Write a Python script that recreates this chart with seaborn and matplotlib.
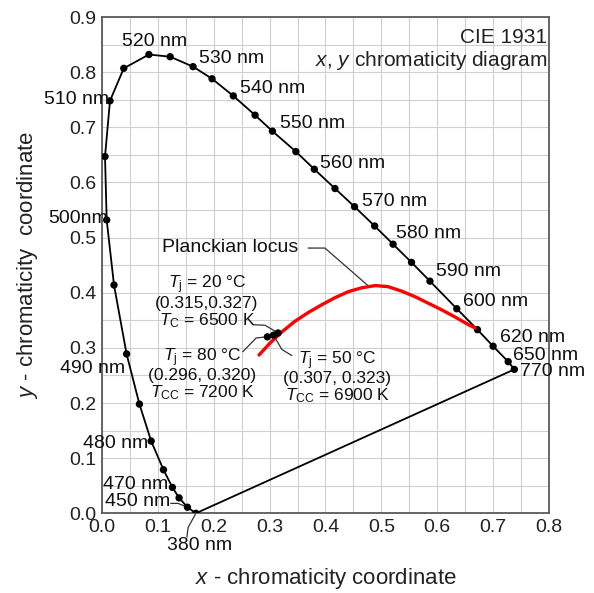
import numpy as np
import pandas as pd
import matplotlib
matplotlib.use("Agg")
import matplotlib.pyplot as plt
import seaborn as sns

# ---------------- data ----------------
wavelengths = [380, 450, 460, 470, 475, 480, 485, 490, 495, 500, 505, 510, 515,
               520, 525, 530, 535, 540, 545, 550, 555, 560, 565, 570, 575, 580,
               585, 590, 600, 610, 620, 650, 770]
locus_x = [0.168, 0.153, 0.138, 0.126, 0.110, 0.088, 0.067, 0.044, 0.0215, 0.0084,
           0.0054, 0.0143, 0.039, 0.084, 0.122, 0.163, 0.197, 0.235, 0.274, 0.305,
           0.347, 0.380, 0.417, 0.452, 0.488, 0.521, 0.554, 0.587, 0.635, 0.672,
           0.700, 0.727, 0.738]
locus_y = [0.000, 0.011, 0.028, 0.047, 0.079, 0.131, 0.198, 0.289, 0.414, 0.532,
           0.647, 0.748, 0.807, 0.832, 0.828, 0.810, 0.788, 0.757, 0.722, 0.693,
           0.656, 0.624, 0.589, 0.556, 0.521, 0.488, 0.455, 0.421, 0.371, 0.333,
           0.303, 0.275, 0.261]

planck_x = [0.281, 0.301, 0.322, 0.345, 0.369, 0.393, 0.417, 0.441, 0.465, 0.489,
            0.512, 0.536, 0.560, 0.584, 0.608, 0.632, 0.656, 0.668]
planck_y = [0.287, 0.309, 0.329, 0.348, 0.364, 0.378, 0.391, 0.402, 0.409, 0.413,
            0.411, 0.403, 0.393, 0.381, 0.369, 0.356, 0.342, 0.336]

tj_labels = ["20 °C", "50 °C", "80 °C"]
tj_x = [0.315, 0.307, 0.296]
tj_y = [0.327, 0.323, 0.320]
tj_coords = ["(0.315,0.327)", "(0.307, 0.323)", "(0.296, 0.320)"]
tj_temps = [r"$T_{\mathrm{C}}$ = 6500 K", r"$T_{\mathrm{CC}}$ = 6900 K", r"$T_{\mathrm{CC}}$ = 7200 K"]

label_wl = [380, 450, 470, 480, 490, 500, 510, 520, 530, 540, 550, 560, 570,
            580, 590, 600, 620, 650, 770]
label_text = ["380 nm", "450 nm", "470 nm", "480 nm", "490 nm", "500nm", "510 nm",
              "520 nm", "530 nm", "540 nm", "550 nm", "560 nm", "570 nm", "580 nm",
              "590 nm", "600 nm", "620 nm", "650 nm", "770 nm"]

x_ticks = [0.0, 0.1, 0.2, 0.3, 0.4, 0.5, 0.6, 0.7, 0.8]
y_ticks = [0.0, 0.1, 0.2, 0.3, 0.4, 0.5, 0.6, 0.7, 0.8, 0.9]

# ---------------- style ----------------
sns.set_style("white")
plt.rcParams["font.family"] = ["Liberation Sans", "DejaVu Sans"]
plt.rcParams["mathtext.fontset"] = "custom"
plt.rcParams["mathtext.rm"] = "Liberation Sans"
plt.rcParams["mathtext.it"] = "Liberation Sans:italic"
plt.rcParams["mathtext.bf"] = "Liberation Sans:bold"

fig = plt.figure(figsize=(5.94, 5.93), dpi=100)
ax = fig.add_axes([0.1717, 0.1344, 0.7525, 0.8369])

# closed spectral locus (purple line back to 380 nm)
loc_df = pd.DataFrame({"x": locus_x + [locus_x[0]], "y": locus_y + [locus_y[0]]})
sns.lineplot(data=loc_df, x="x", y="y", sort=False, estimator=None, color="black",
             lw=1.3, ax=ax, zorder=3)
sns.scatterplot(x=locus_x, y=locus_y, color="black", s=28, edgecolor="none", ax=ax, zorder=4)

pl_df = pd.DataFrame({"x": planck_x, "y": planck_y})
line_pl = sns.lineplot(data=pl_df, x="x", y="y", sort=False, estimator=None, color="#ff0000",
                       lw=2.4, ax=ax, zorder=5)
for ln in ax.lines:
    ln.set_solid_joinstyle("round")
sns.scatterplot(x=tj_x, y=tj_y, color="black", s=28, edgecolor="none", ax=ax, zorder=6)

ax.set_xlim(0, 0.8)
ax.set_ylim(0, 0.9)
ax.set_xticks(x_ticks)
ax.set_yticks(y_ticks)
ax.set_xticklabels([f"{v:.1f}" for v in x_ticks])
ax.set_yticklabels([f"{v:.1f}" for v in y_ticks])
ax.xaxis.set_minor_locator(matplotlib.ticker.MultipleLocator(0.05))
ax.yaxis.set_minor_locator(matplotlib.ticker.MultipleLocator(0.05))
ax.grid(True, which="both", color="#cfcfcf", lw=0.8, zorder=0)
ax.set_axisbelow(True)
ax.tick_params(which="both", direction="in", color="#333333", labelsize=14,
               labelcolor="#222222", top=False, right=False)
ax.tick_params(which="major", length=7, width=1.0, pad=4)
ax.tick_params(which="minor", length=5, width=1.0)
for s in ax.spines.values():
    s.set_color("#5a5a5a")
    s.set_linewidth(1.3)

ax.set_xlabel(r"$x$ - chromaticity coordinate", fontsize=16, color="#222222", labelpad=22)
ax.set_ylabel(r"$y$ - chromaticity  coordinate", fontsize=16, color="#222222", labelpad=21)

# title in the corner
ax.text(0.797, 0.862, "CIE 1931", ha="right", va="center", fontsize=15, color="#222222")
ax.text(0.797, 0.822, r"$x$, $y$ chromaticity diagram", ha="right", va="center",
        fontsize=15, color="#222222")

# wavelength labels: (ha, x, y)
label_pos = {
    380: ("center", 0.175, -0.058), 450: ("right", 0.122, 0.021),
    470: ("right", 0.118, 0.053), 480: ("right", 0.082, 0.127),
    490: ("right", 0.042, 0.263), 500: ("right", 0.011, 0.534),
    510: ("right", 0.013, 0.750), 520: ("center", 0.094, 0.855),
    530: ("left", 0.174, 0.824), 540: ("left", 0.247, 0.770),
    550: ("left", 0.319, 0.707), 560: ("left", 0.391, 0.635),
    570: ("left", 0.466, 0.566), 580: ("left", 0.527, 0.508),
    590: ("left", 0.597, 0.438), 600: ("left", 0.647, 0.384),
    620: ("left", 0.713, 0.318), 650: ("left", 0.736, 0.287),
    770: ("left", 0.748, 0.258),
}
for wl, txt in zip(label_wl, label_text):
    ha, tx, ty = label_pos[wl]
    ax.text(tx, ty, txt, ha=ha, va="center", fontsize=14, color="#111111",
            clip_on=False, zorder=7)

lk = dict(color="#333333", lw=0.9, clip_on=False, zorder=2)
i450 = wavelengths.index(450)
ax.plot([0.123, 0.136, locus_x[i450]], [0.018, 0.018, locus_y[i450]], **lk)
ax.plot([locus_x[0], 0.154, 0.152], [locus_y[0], -0.026, -0.043], **lk)

# Planckian locus label
ax.text(0.352, 0.482, "Planckian locus", ha="right", va="center", fontsize=14,
        color="#111111")
ax.plot([0.369, 0.399, 0.476], [0.481, 0.481, 0.413], **lk)

# junction temperature annotations
blocks = {
    "20 °C": (0.188, [0.414, 0.381, 0.349]),
    "50 °C": (0.421, [0.276, 0.244, 0.214]),
    "80 °C": (0.179, [0.282, 0.249, 0.218]),
}
for lab, xc, yc, tcc, coords in zip(tj_labels, tj_x, tj_y, tj_temps, tj_coords):
    bx, ys = blocks[lab]
    ax.text(bx, ys[0], r"$T_{\mathrm{j}}$ = " + lab, ha="center", va="center", fontsize=12.5,
            color="#111111")
    ax.text(bx, ys[1], coords, ha="center", va="center", fontsize=12.5, color="#111111")
    ax.text(bx, ys[2], tcc, ha="center", va="center", fontsize=12.5, color="#111111")

ax.plot([0.270, 0.292, tj_x[0]], [0.342, 0.341, tj_y[0]], **lk)
ax.plot([tj_x[1], 0.322, 0.340], [tj_y[1], 0.297, 0.286], **lk)
ax.plot([0.252, 0.276, tj_x[2]], [0.293, 0.318, tj_y[2]], **lk)

fig.savefig("out.png", dpi=100)
